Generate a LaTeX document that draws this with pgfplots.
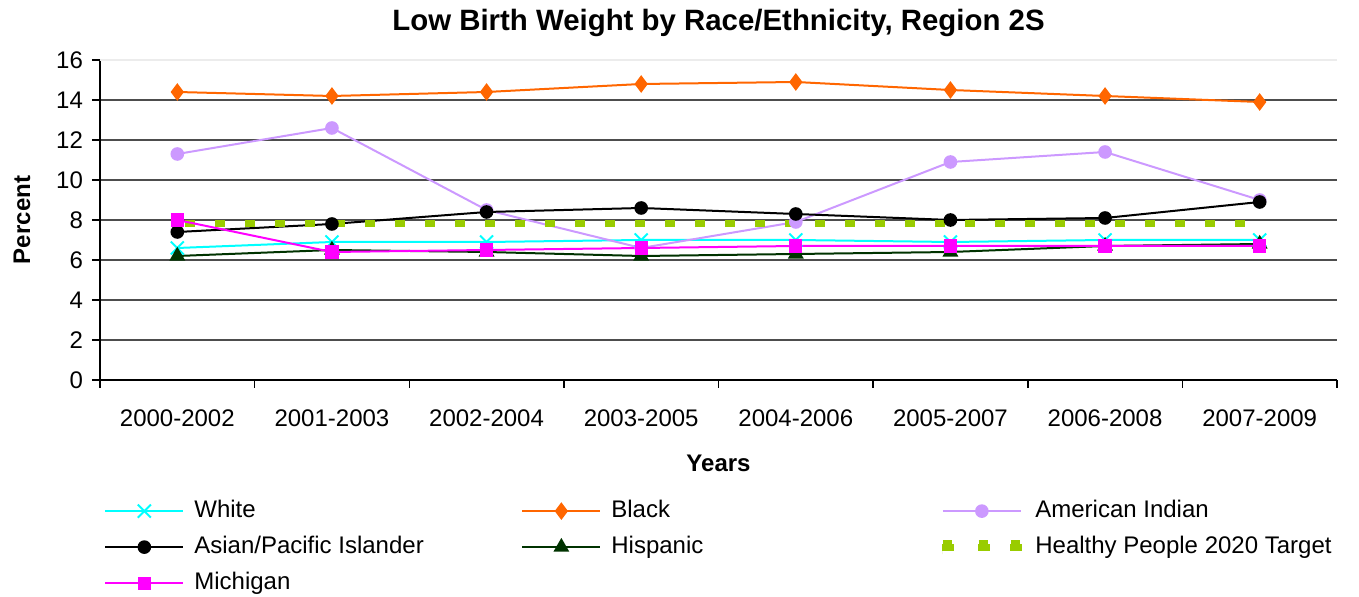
\documentclass[border=0pt]{standalone}
\usepackage{pgfplots}
\pgfplotsset{compat=1.18}
\usepackage{fontspec}
\setmainfont{Liberation Sans}
\definecolor{cwhite}{HTML}{00FFFF}
\definecolor{cblack}{HTML}{FF6600}
\definecolor{cindian}{HTML}{CC99FF}
\definecolor{chisp}{HTML}{003300}
\definecolor{cmich}{HTML}{FF00FF}
\definecolor{chp}{HTML}{99CC00}
\definecolor{cgrid}{HTML}{4D4D4D}
\newcommand\legtxt[1]{\hspace{5pt}\makebox[163.5pt][l]{#1}}
\begin{document}
\begin{tikzpicture}
\useasboundingbox (-50pt,-108.5pt) rectangle (629.5pt,190pt);
\begin{axis}[
  at={(0,0)}, anchor=south west,
  width=618.5pt, height=160pt, scale only axis,
  xmin=-0.5, xmax=7.5, ymin=0, ymax=16,
  axis x line*=bottom, axis y line*=left,
  axis line style={black, line width=0.75pt},
  ytick={0,2,...,14},
  extra y ticks={16},
  extra y tick style={grid style={gray!15, line width=0.75pt}},
  ymajorgrids,
  grid style={cgrid, line width=0.75pt},
  tick align=outside, major tick length=4pt,
  tick style={black, line width=0.75pt},
  xtick={-0.5,0.5,...,7.5}, xticklabels={},
  extra x ticks={0,1,2,3,4,5,6,7},
  extra x tick labels={2000-2002,2001-2003,2002-2004,2003-2005,2004-2006,2005-2007,2006-2008,2007-2009},
  extra x tick style={major tick length=0pt, xticklabel style={anchor=center, yshift=-19pt}},
  yticklabel style={anchor=east, xshift=-1pt},
  tick label style={font=\fontsize{12}{14}\selectfont},
  /pgf/number format/assume math mode=true,
  title={Low Birth Weight by Race/Ethnicity, Region 2S},
  title style={font=\fontsize{14.7}{17}\selectfont\bfseries, at={(axis description cs:0.5,1)}, anchor=center, yshift=12.5pt},
  xlabel={Years},
  xlabel style={font=\fontsize{12}{14}\selectfont\bfseries, at={(axis description cs:0.5,-0.259)}, anchor=center},
  ylabel={Percent},
  ylabel style={font=\fontsize{12}{14}\selectfont\bfseries, at={(axis description cs:-0.0631,0.5)}, anchor=center},
  legend columns=3,
  legend cell align=left,
  legend style={draw=none, fill=none, inner sep=0pt, row sep=6pt, column sep=0pt,
    font=\fontsize{12}{14}\selectfont,
    nodes={inner sep=0pt, text height=9pt, text depth=3pt},
    at={(axis description cs:0.0032,-0.371)}, anchor=north west},
  legend image code/.code={\draw[mark repeat=2,mark phase=2,#1] plot coordinates {(0.5pt,0pt) (20pt,0pt) (39.5pt,0pt)};},
  every axis plot/.append style={line width=1pt},
]
\addplot[color=cwhite, mark=x, mark size=4.6pt, mark options={line width=1pt}]
  coordinates {(0,6.6) (1,6.9) (2,6.9) (3,7.0) (4,7.0) (5,6.9) (6,7.0) (7,7.0)};
\addlegendentry{\legtxt{White}}
\addplot[color=cblack, mark=diamond*, mark size=3.6pt, mark options={fill=cblack}]
  coordinates {(0,14.4) (1,14.2) (2,14.4) (3,14.8) (4,14.9) (5,14.5) (6,14.2) (7,13.9)};
\addlegendentry{\legtxt{Black}}
\addplot[color=cindian, mark=*, mark size=2.9pt, mark options={fill=cindian}]
  coordinates {(0,11.3) (1,12.6) (2,8.5) (3,6.6) (4,7.9) (5,10.9) (6,11.4) (7,9.0)};
\addlegendentry{\legtxt{American Indian}}
\addplot[color=black, mark=*, mark size=2.9pt, mark options={fill=black}]
  coordinates {(0,7.4) (1,7.8) (2,8.4) (3,8.6) (4,8.3) (5,8.0) (6,8.1) (7,8.9)};
\addlegendentry{\legtxt{Asian/Pacific Islander}}
\addplot[color=chisp, mark=triangle*, mark size=3.6pt, mark options={fill=chisp}]
  coordinates {(0,6.2) (1,6.5) (2,6.4) (3,6.2) (4,6.3) (5,6.4) (6,6.7) (7,6.8)};
\addlegendentry{\legtxt{Hispanic}}
\addplot[color=chp, line width=3.5pt, dash pattern=on 4.7pt off 10.3pt, dash phase=-4pt, no markers,
  legend image code/.code={\fill[chp] (0pt,-1.75pt) rectangle (6pt,1.75pt);
    \fill[chp] (18pt,-1.75pt) rectangle (24pt,1.75pt);
    \fill[chp] (34pt,-1.75pt) rectangle (40pt,1.75pt);}]
  coordinates {(0,7.8) (1,7.8) (2,7.8) (3,7.8) (4,7.8) (5,7.8) (6,7.8) (7,7.8)};
\addlegendentry{\legtxt{Healthy People 2020 Target}}
\addplot[color=cmich, mark=square*, mark size=2.8pt, mark options={fill=cmich}]
  coordinates {(0,8.0) (1,6.4) (2,6.5) (3,6.6) (4,6.7) (5,6.7) (6,6.7) (7,6.7)};
\addlegendentry{\legtxt{Michigan}}
\end{axis}
\end{tikzpicture}
\end{document}
